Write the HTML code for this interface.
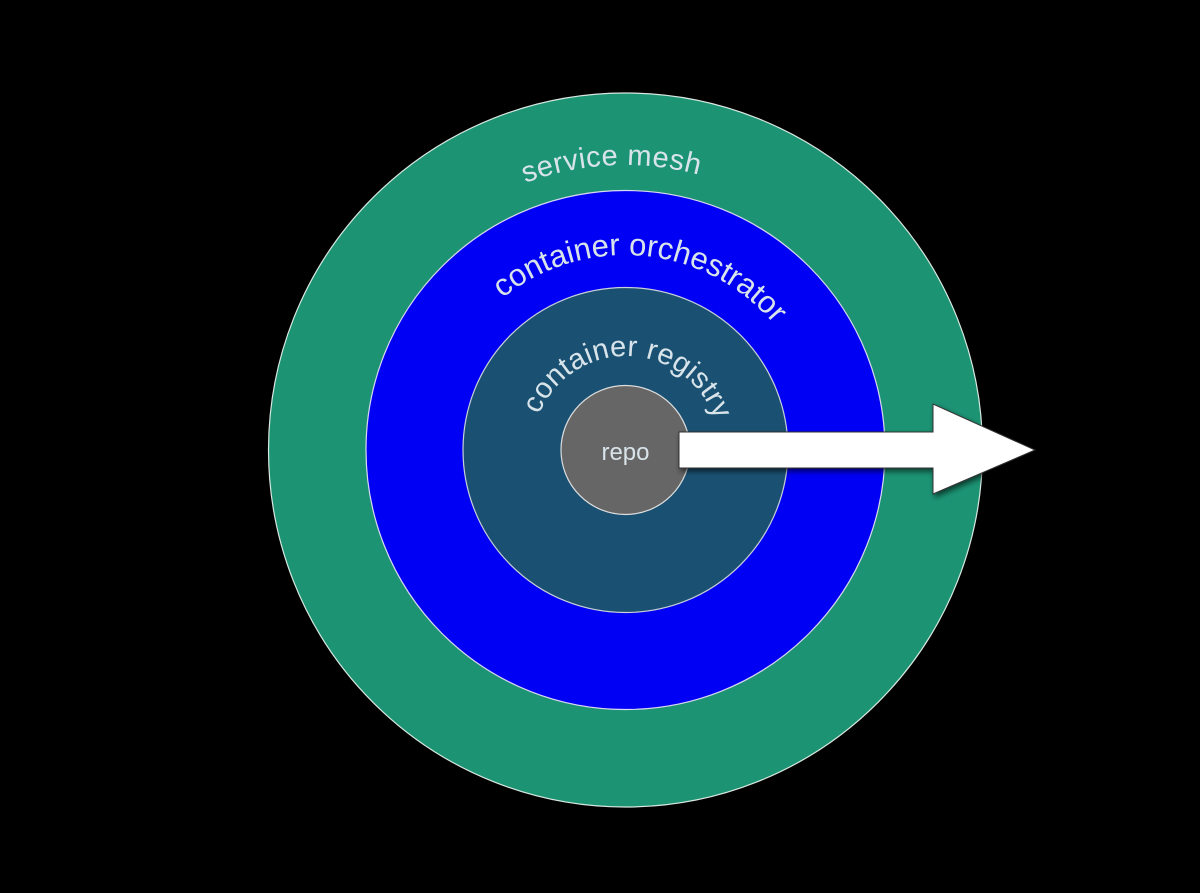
<!DOCTYPE html>
<html><head><style>html,body{margin:0;padding:0;background:#000;}</style></head>
<body>
<svg width="1200" height="888" viewBox="0 0 1200 888" xmlns="http://www.w3.org/2000/svg">
<defs>
<path id="p1" d="M340,450 A285,285 0 0 1 910,450"/>
<path id="p2" d="M430,450 A195,195 0 0 1 820,450"/>
<path id="p3" d="M532,450 A94,94 0 0 1 720,450"/>
<filter id="sh" x="-20%" y="-50%" width="140%" height="200%"><feDropShadow dx="2" dy="3" stdDeviation="3" flood-color="#000" flood-opacity="0.6"/></filter>
</defs>
<rect width="1200" height="888" fill="#000"/>
<circle cx="625.5" cy="450" r="357" fill="#1c9474" stroke="#d8e8e0" stroke-width="1.2"/>
<circle cx="625.5" cy="450" r="259.5" fill="#0000f5" stroke="#d8d8f0" stroke-width="1.2"/>
<circle cx="625.5" cy="450" r="162.5" fill="#1a5173" stroke="#c8d0d8" stroke-width="1.2"/>
<circle cx="625.5" cy="450" r="64.5" fill="#666" stroke="#ddd" stroke-width="1.2"/>
<g font-family="Liberation Sans, sans-serif" fill="#d8e4ea">
<text font-size="29" letter-spacing="0.5"><textPath href="#p1" startOffset="48.5%" text-anchor="middle">service mesh</textPath></text>
<text font-size="31"><textPath href="#p2" startOffset="53%" text-anchor="middle">container orchestrator</textPath></text>
<text font-size="29" letter-spacing="0.3"><textPath href="#p3" startOffset="51%" text-anchor="middle">container registry</textPath></text>
<text x="625.5" y="460" font-size="24" text-anchor="middle">repo</text>
</g>
<polygon filter="url(#sh)" points="679,432 933,432 933,404 1035,450 933,494 933,468 679,468" fill="#fff" stroke="#333" stroke-width="1"/>
</svg>
</body></html>
